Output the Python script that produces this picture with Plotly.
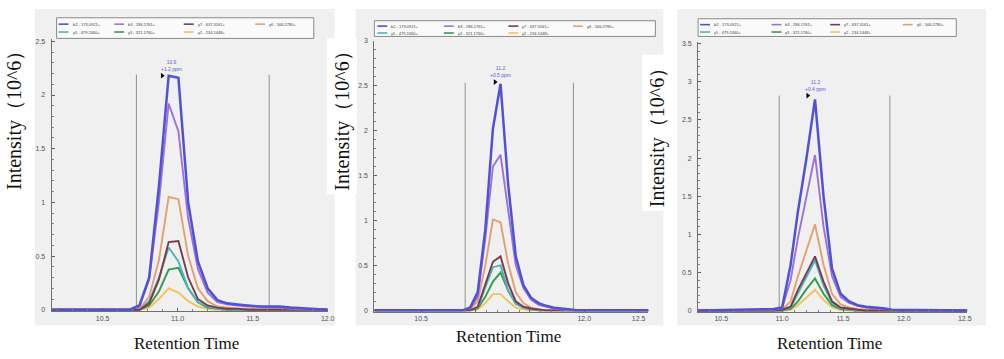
import plotly.graph_objects as go

W, H = 1004, 359

# ---------------- data ----------------
ion_names = ["b2 - 173.0921+", "b3 - 286.1761+", "y7 - 637.3161+", "y6 - 566.2780+",
             "y5 - 479.2460+", "y3 - 321.1760+", "y2 - 234.1448+"]
ion_colors = ["#5050d8", "#9a72dc", "#7b3b4b", "#e3a070", "#48b4c0", "#2e9e4e", "#f2c25a"]

rt1 = [10.16, 10.68, 10.745, 10.81, 10.875, 10.94, 11.005, 11.07, 11.135, 11.20, 11.265,
       11.33, 11.40, 11.47, 11.54, 11.61, 11.68, 11.75, 12.0]
b2_1 = [0, 0, 0.04, 0.30, 1.15, 2.18, 2.16, 1.00, 0.45, 0.20, 0.09, 0.06, 0.05, 0.04, 0.03, 0.03, 0.03, 0.02, 0]
b3_1 = [0, 0, 0.03, 0.28, 1.00, 1.92, 1.66, 0.85, 0.38, 0.16, 0.07, 0.05, 0.04, 0.03, 0.03, 0.02, 0.02, 0.01, 0]
y7_1 = [0, 0, 0.00, 0.06, 0.28, 0.63, 0.64, 0.30, 0.10, 0.04, 0.02, 0.01, 0.01, 0, 0, 0, 0, 0, 0]
y6_1 = [0, 0, 0.01, 0.12, 0.46, 1.05, 1.03, 0.50, 0.20, 0.08, 0.03, 0.02, 0.01, 0.01, 0, 0, 0, 0, 0]
y5_1 = [0, 0, 0.01, 0.08, 0.30, 0.58, 0.45, 0.20, 0.07, 0.03, 0.01, 0.01, 0, 0, 0, 0, 0, 0, 0]
y3_1 = [0, 0, 0.00, 0.04, 0.17, 0.375, 0.39, 0.20, 0.07, 0.02, 0.01, 0, 0, 0, 0, 0, 0, 0, 0]
y2_1 = [0, 0, 0.00, 0.02, 0.10, 0.20, 0.16, 0.08, 0.03, 0.01, 0, 0, 0, 0, 0, 0, 0, 0, 0]

rt2 = [10.07, 10.88, 10.95, 11.02, 11.09, 11.16, 11.23, 11.30, 11.37, 11.44, 11.51,
       11.58, 11.65, 11.72, 11.79, 11.86, 11.93, 12.59]
b2_2 = [0, 0, 0.03, 0.20, 0.90, 2.02, 2.52, 1.40, 0.60, 0.28, 0.14, 0.08, 0.05, 0.03, 0.02, 0.01, 0, 0]
b3_2 = [0, 0, 0.02, 0.15, 0.80, 1.60, 1.73, 1.10, 0.50, 0.25, 0.12, 0.06, 0.04, 0.02, 0.01, 0, 0, 0]
y7_2 = [0, 0, 0.00, 0.04, 0.28, 0.54, 0.60, 0.30, 0.10, 0.04, 0.02, 0.01, 0, 0, 0, 0, 0, 0]
y6_2 = [0, 0, 0.01, 0.10, 0.50, 1.01, 0.98, 0.52, 0.20, 0.08, 0.03, 0.01, 0, 0, 0, 0, 0, 0]
y5_2 = [0, 0, 0.00, 0.03, 0.25, 0.48, 0.50, 0.22, 0.07, 0.03, 0.01, 0, 0, 0, 0, 0, 0, 0]
y3_2 = [0, 0, 0.00, 0.02, 0.15, 0.32, 0.42, 0.22, 0.08, 0.03, 0.01, 0, 0, 0, 0, 0, 0, 0]
y2_2 = [0, 0, 0.00, 0.01, 0.08, 0.18, 0.18, 0.10, 0.03, 0.01, 0, 0, 0, 0, 0, 0, 0, 0]

rt3 = [10.31, 10.93, 11.00, 11.07, 11.13, 11.20, 11.27, 11.34, 11.41, 11.48, 11.55,
       11.62, 11.69, 11.76, 11.83, 11.90, 12.52]
b2_3 = [0, 0.02, 0.04, 0.60, 1.30, 2.00, 2.77, 1.50, 0.55, 0.22, 0.12, 0.07, 0.05, 0.04, 0.03, 0.01, 0]
b3_3 = [0, 0.01, 0.03, 0.40, 0.95, 1.50, 2.04, 1.10, 0.45, 0.18, 0.10, 0.06, 0.04, 0.03, 0.02, 0.01, 0]
y7_3 = [0, 0, 0.01, 0.05, 0.27, 0.50, 0.71, 0.38, 0.12, 0.04, 0.02, 0.01, 0, 0, 0, 0, 0]
y6_3 = [0, 0, 0.01, 0.12, 0.45, 0.80, 1.13, 0.60, 0.22, 0.08, 0.04, 0.02, 0.01, 0, 0, 0, 0]
y5_3 = [0, 0, 0.00, 0.04, 0.22, 0.45, 0.66, 0.33, 0.10, 0.03, 0.01, 0, 0, 0, 0, 0, 0]
y3_3 = [0, 0, 0.00, 0.02, 0.12, 0.28, 0.42, 0.22, 0.07, 0.02, 0.01, 0, 0, 0, 0, 0, 0]
y2_3 = [0, 0, 0.00, 0.01, 0.07, 0.17, 0.27, 0.14, 0.04, 0.01, 0, 0, 0, 0, 0, 0, 0]

# integration boundaries (left, right, line height)
bound_left = [10.725, 10.905, 10.976]
bound_right = [11.61, 11.90, 11.885]
bound_top = [2.19, 2.53, 2.82]

# best-peak marker and apex labels
peak_marker_rt = [10.897, 11.18, 11.21]
peak_marker_int = [2.18, 2.54, 2.82]
apex_rt = [10.957, 11.226, 11.275]
apex_text = ["10.9<br>+1.2 ppm", "11.2<br>+0.5 ppm", "11.2<br>+0.4 ppm"]

x_tickvals = [[10.5, 11.0, 11.5, 12.0],
              [10.5, 11.0, 11.5, 12.0, 12.5],
              [10.5, 11.0, 11.5, 12.0, 12.5]]
x_ticktext = [["10.5", "11.0", "11.5", "12.0"],
              ["10.5", "", "", "12.0", "12.5"],
              ["10.5", "11.0", "11.5", "12.0", "12.5"]]
y_tickvals = [[0, 0.5, 1, 1.5, 2, 2.5],
              [0, 0.5, 1, 1.5, 2, 2.5, 3],
              [0, 0.5, 1, 1.5, 2, 2.5, 3, 3.5]]

y_title = "Intensity（10^6）"
x_title = "Retention Time"

panels = [
    (rt1, [b2_1, b3_1, y7_1, y6_1, y5_1, y3_1, y2_1]),
    (rt2, [b2_2, b3_2, y7_2, y6_2, y5_2, y3_2, y2_2]),
    (rt3, [b2_3, b3_3, y7_3, y6_3, y5_3, y3_3, y2_3]),
]

# ---------------- layout geometry (pixels) ----------------
def px(x):
    return x / W

def py(y):
    return 1 - y / H

x_px = [(52, 330), (377, 653), (703, 974)]
x_rng = [(10.16, 12.0), (10.07, 12.59), (10.31, 12.52)]
y_px = [(312.6, 36), (313.0, 37.3), (313.2, 38.9)]
y_rng = [(-0.015, 2.518), (-0.016, 3.0), (-0.019, 3.52)]
bg_box = [(35, 5, 337, 327), (358, 5, 668, 327), (682, 5, 993, 327)]
leg_box = [(57, 14, 316, 35), (377, 17, 660, 33), (703, 15, 963, 33)]
leg_cols = [(59, 115, 185, 257), (380, 447, 512, 577), (705, 777, 836, 909)]
leg_rows = [(20.5, 28.5), (22.5, 29.5), (21, 28.5)]
ytitle_xy = [(14, 113), (344, 114), (662, 131)]
xtitle_xy = [(188, 345), (512, 338), (835, 345)]

fig = go.Figure()
shapes = []
annotations = []
layout = dict(
    width=W, height=H, margin=dict(l=0, r=0, t=0, b=0),
    paper_bgcolor="white", plot_bgcolor="#f0f0f0", showlegend=False,
)

tick_font = dict(family="Liberation Sans, Arial", size=7, color="#505050")
order = [6, 5, 4, 3, 2, 1, 0]  # draw b2 last (on top)

for p, (rt, series) in enumerate(panels):
    xa = "x" if p == 0 else f"x{p+1}"
    ya = "y" if p == 0 else f"y{p+1}"
    # background pane
    x0, y0, x1, y1 = bg_box[p]
    shapes.append(dict(type="rect", xref="paper", yref="paper", layer="below",
                       x0=px(x0), x1=px(x1), y0=py(y1), y1=py(y0),
                       fillcolor="#f0f0f0", line=dict(width=0)))
    # legend frame
    x0, y0, x1, y1 = leg_box[p]
    shapes.append(dict(type="rect", xref="paper", yref="paper", layer="above",
                       x0=px(x0), x1=px(x1), y0=py(y1), y1=py(y0),
                       fillcolor="rgba(250,250,250,1)", line=dict(width=1, color="#8a8a8a")))
    for i, name in enumerate(ion_names):
        row = 0 if i < 4 else 1
        col = i if i < 4 else i - 4
        lx = leg_cols[p][col]
        ly = leg_rows[p][row]
        shapes.append(dict(type="line", xref="paper", yref="paper", layer="above",
                           x0=px(lx), x1=px(lx + 10), y0=py(ly), y1=py(ly),
                           line=dict(color=ion_colors[i], width=1.6)))
        annotations.append(dict(x=px(lx + 12), y=py(ly), xref="paper", yref="paper",
                                text=name, showarrow=False, xanchor="left", yanchor="middle",
                                font=dict(family="Liberation Sans, Arial", size=4,
                                          color="#404040")))
    # boundaries
    for bx in (bound_left[p], bound_right[p]):
        fig.add_trace(go.Scatter(x=[bx, bx], y=[0, bound_top[p]], mode="lines",
                                 line=dict(color="#909090", width=1), xaxis=xa, yaxis=ya,
                                 hoverinfo="skip"))
    for i in order:
        fig.add_trace(go.Scatter(
            x=rt, y=series[i], mode="lines", name=ion_names[i],
            line=dict(color=ion_colors[i], width=2.5 if i == 0 else 1.9),
            xaxis=xa, yaxis=ya))
    fig.add_trace(go.Scatter(x=[peak_marker_rt[p]], y=[peak_marker_int[p]], mode="markers",
                             marker=dict(symbol="triangle-right", size=5, color="black"),
                             xaxis=xa, yaxis=ya, cliponaxis=False))
    annotations.append(dict(x=apex_rt[p], y=peak_marker_int[p], xref=xa, yref=ya,
                            text=apex_text[p], showarrow=False, yanchor="bottom", yshift=2,
                            xanchor="center",
                            font=dict(family="Liberation Sans, Arial", size=5, color="#5a5ae0")))
    # axes
    layout["xaxis" if p == 0 else f"xaxis{p+1}"] = dict(
        domain=[px(x_px[p][0]), px(x_px[p][1])], range=list(x_rng[p]), anchor=ya,
        tickvals=x_tickvals[p], ticktext=x_ticktext[p], ticks="inside", ticklen=3,
        tickcolor="#606060", showgrid=False, zeroline=False, showline=True,
        linecolor="#707070", linewidth=1, tickfont=tick_font,
        minor=dict(dtick=0.1, tick0=10.0, ticks="inside", ticklen=2, tickcolor="#808080"))
    layout["yaxis" if p == 0 else f"yaxis{p+1}"] = dict(
        domain=[py(y_px[p][0]), py(y_px[p][1])], range=list(y_rng[p]), anchor=xa,
        tickvals=y_tickvals[p], ticks="inside", ticklen=3, tickcolor="#606060",
        showgrid=False, zeroline=False, showline=True, linecolor="#707070", linewidth=1,
        tickfont=tick_font, ticklabelstandoff=4,
        minor=dict(dtick=0.1, tick0=0, ticks="inside", ticklen=2, tickcolor="#808080"))
    # titles
    tx, ty = ytitle_xy[p]
    annotations.append(dict(x=px(tx), y=py(ty), xref="paper", yref="paper", text=y_title,
                            textangle=-90, showarrow=False, bgcolor="white", borderpad=3,
                            xanchor="center", yanchor="middle",
                            font=dict(family="Liberation Serif, Times New Roman, serif",
                                      size=20, color="#111")))
    tx, ty = xtitle_xy[p]
    annotations.append(dict(x=px(tx), y=py(ty), xref="paper", yref="paper", text=x_title,
                            showarrow=False, xanchor="center", yanchor="middle",
                            font=dict(family="Liberation Serif, Times New Roman, serif",
                                      size=17, color="#111")))

layout["shapes"] = shapes
layout["annotations"] = annotations
fig.update_layout(**layout)
fig.write_html("out.html")
